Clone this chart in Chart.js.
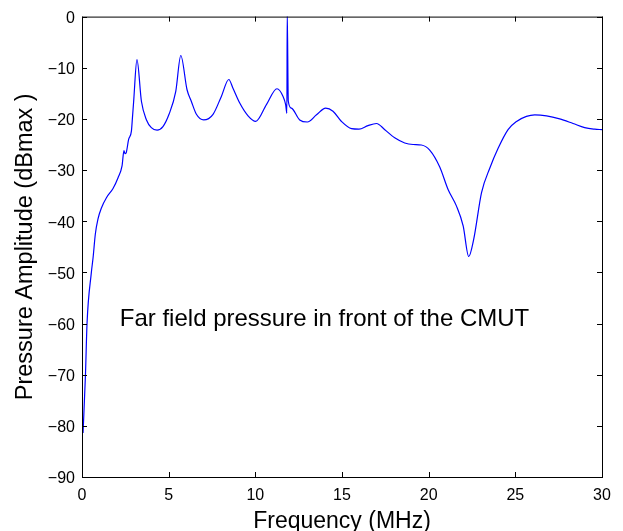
<!DOCTYPE html>
<html>
<head>
<meta charset="utf-8">
<script src="https://cdn.jsdelivr.net/npm/chart.js@4"></script>
<style>
  html, body { margin:0; padding:0; background:#fff; }
  #wrap { width:623px; height:531px; }
</style>
</head>
<body>
<div id="wrap"><canvas id="chart" width="623" height="531"></canvas></div>
<script>
// Far field pressure spectrum
const freqMHz = [0.06, 0.2, 0.29, 0.54, 0.64, 0.77, 0.92, 1.12, 1.41, 1.79, 2.08, 2.31, 2.42, 2.48, 2.55, 2.69,
  2.85, 2.91, 2.98, 3.17, 3.43, 3.72, 4.00, 4.33, 4.67, 5.02, 5.41, 5.70, 6.06, 6.31, 6.60, 7.02, 7.56, 8.04,
  8.47, 8.71, 9.10, 9.58, 10.02, 10.64, 11.25, 11.60, 11.75, 11.82, 11.84, 11.90, 12.08, 12.56, 13.00, 13.53,
  14.06, 14.48, 14.97, 15.55, 15.98, 16.50, 16.99, 17.47, 18.04, 18.62, 19.10, 19.58, 20.06, 20.64, 21.12,
  21.60, 21.99, 22.31, 22.60, 23.05, 23.53, 24.00, 24.58, 25.07, 25.64, 26.12, 26.80, 27.56, 28.33, 29.00,
  29.58, 30.0];
const ampDb = [-81.4, -70, -60, -50, -47.1, -42.5, -39.6, -37.4, -35.4, -33.6, -31.5, -29.2, -26.2, -26.8, -26.6, -24.0,
  -22.4, -19.8, -16.6, -8.4, -16.6, -20.2, -21.7, -22.2, -21.5, -19.1, -14.6, -7.6, -14.3, -16.6, -19.1, -20.2, -19.1, -15.6,
  -12.3, -14.0, -16.9, -19.4, -20.5, -17.2, -14.1, -15.6, -17.2, -18.9, 1, -16.5, -17.9, -20.2, -20.6, -19.2,
  -17.9, -18.5, -20.5, -21.9, -22.0, -21.3, -20.9, -22.1, -23.7, -24.7, -25.0, -25.1, -26.1, -29.4, -33.8,
  -37.0, -40.9, -46.9, -43.5, -34.4, -29.6, -25.8, -22.1, -20.5, -19.5, -19.2, -19.4, -20.0, -20.9, -21.7,
  -22.0, -22.1];

const xTicks = [0, 5, 10, 15, 20, 25, 30];
const yTicks = [-90, -80, -70, -60, -50, -40, -30, -20, -10, 0];

const noteText = 'Far field pressure in front of the CMUT';
const noteAt = { x: 2.18, y: -60.5 };

const points = freqMHz.map((f, i) => ({ x: f, y: ampDb[i] }));
const FONT = 'Liberation Sans, Arial, Helvetica, sans-serif';
const minus = (v) => String(v).replace('-', '\u2212');

// boîte style MATLAB : cadre, graduations intérieures, annotation
const boxPlugin = {
  id: 'box',
  afterDraw(chart) {
    const { ctx, chartArea: a, scales: { x, y } } = chart;
    ctx.save();
    ctx.strokeStyle = '#000';
    ctx.lineWidth = 1;
    ctx.strokeRect(a.left + 0.5, a.top + 0.5, a.right - a.left, a.bottom - a.top);
    ctx.beginPath();
    const L = 5;
    for (const t of xTicks) {
      const px = Math.round(x.getPixelForValue(t)) + 0.5;
      ctx.moveTo(px, a.bottom); ctx.lineTo(px, a.bottom - L);
      ctx.moveTo(px, a.top); ctx.lineTo(px, a.top + L);
    }
    for (const t of yTicks) {
      const py = Math.round(y.getPixelForValue(t)) + 0.5;
      ctx.moveTo(a.left, py); ctx.lineTo(a.left + L, py);
      ctx.moveTo(a.right, py); ctx.lineTo(a.right - L, py);
    }
    ctx.stroke();
    ctx.fillStyle = '#000';
    ctx.font = '24px ' + FONT;
    ctx.textAlign = 'left';
    ctx.textBaseline = 'alphabetic';
    ctx.fillText(noteText, x.getPixelForValue(noteAt.x), y.getPixelForValue(noteAt.y));
    ctx.restore();
  }
};

new Chart(document.getElementById('chart'), {
  type: 'line',
  data: {
    datasets: [{
      data: points,
      borderColor: '#0000ff',
      borderWidth: 1.2,
      pointRadius: 0,
      cubicInterpolationMode: 'monotone',
      fill: false
    }]
  },
  options: {
    responsive: false,
    animation: false,
    layout: { padding: { left: 0, top: 15, right: 21, bottom: 0 } },
    plugins: { legend: { display: false }, tooltip: { enabled: false } },
    scales: {
      x: {
        type: 'linear', min: 0, max: 30,
        afterBuildTicks: (s) => { s.ticks = xTicks.map(v => ({ value: v })); },
        afterFit: (s) => { s.height = 54; },
        grid: { display: false, drawTicks: false },
        border: { display: false },
        ticks: { color: '#000', padding: 9, maxRotation: 0, font: { family: FONT, size: 16 } },
        title: { display: true, text: 'Frequency (MHz)', color: '#000', padding: { top: 0, bottom: -2 },
          font: { family: FONT, size: 23, lineHeight: 1 } }
      },
      y: {
        type: 'linear', min: -90, max: 0,
        afterBuildTicks: (s) => { s.ticks = yTicks.map(v => ({ value: v })); },
        afterFit: (s) => { s.width = 82; },
        grid: { display: false, drawTicks: false },
        border: { display: false },
        ticks: { color: '#000', padding: 7, labelOffset: 2, callback: minus, font: { family: FONT, size: 16 } },
        title: { display: true, text: 'Pressure Amplitude (dBmax )', color: '#000', padding: { top: 14, bottom: 0 },
          font: { family: FONT, size: 23.5, lineHeight: 1 } }
      }
    }
  },
  plugins: [boxPlugin]
});
</script>
</body>
</html>
